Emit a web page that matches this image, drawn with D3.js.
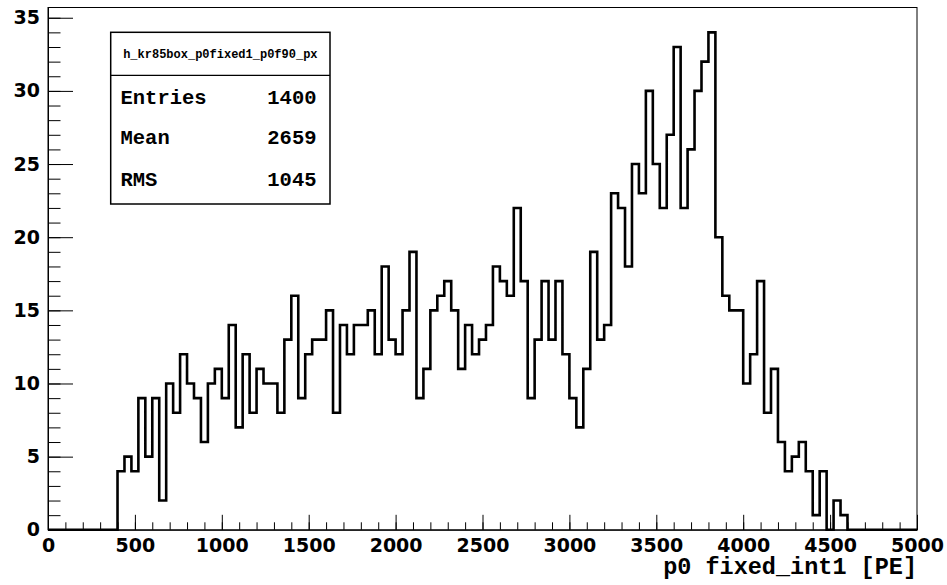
<!DOCTYPE html>
<html>
<head>
<meta charset="utf-8">
<script src="https://cdn.jsdelivr.net/npm/d3@7/dist/d3.min.js"></script>
<style>
  body { margin: 0; background: #fff; }
  svg { display: block; }
</style>
</head>
<body>
<svg width="947" height="585"></svg>
<script>
// histogram definition: 125 bins of 40 PE from 0 to 5000
const xMin = 0, xMax = 5000, binWidth = 40;
const counts = [
    0, 0, 0, 0, 0, 0, 0, 0, 0, 0,
    4, 5, 4, 9, 5, 9, 2, 10, 8, 12,
    10, 9, 6, 10, 11, 9, 14, 7, 12, 8,
    11, 10, 10, 8, 13, 16, 9, 12, 13, 13,
    15, 8, 14, 12, 14, 14, 15, 12, 18, 13,
    12, 15, 19, 9, 11, 15, 16, 17, 15, 11,
    14, 12, 13, 14, 18, 17, 16, 22, 17, 9,
    13, 17, 13, 17, 12, 9, 7, 11, 19, 13,
    14, 23, 22, 18, 25, 23, 30, 25, 22, 27,
    33, 22, 26, 30, 32, 34, 20, 16, 15, 15,
    10, 12, 17, 8, 11, 6, 4, 5, 6, 4,
    1, 4, 0, 2, 1, 0, 0, 0, 0, 0,
    0, 0, 0, 0, 0
];
const xTicks = [0, 500, 1000, 1500, 2000, 2500, 3000, 3500, 4000, 4500, 5000];
const yTicks = [0, 5, 10, 15, 20, 25, 30, 35];
const xTitle = "p0 fixed_int1 [PE]";
const statsTitle = "h_kr85box_p0fixed1_p0f90_px";
const statsLabels = ["Entries", "Mean", "RMS"];
const statsValues = ["1400", "2659", "1045"];

const svg = d3.select("svg");
const frame = {left: 48, right: 917, top: 7.5, bottom: 529.8};
const yMax = d3.max(counts) * 1.05;

const x = d3.scaleLinear().domain([xMin, xMax]).range([frame.left, frame.right]);
const y = d3.scaleLinear().domain([0, yMax]).range([frame.bottom, frame.top]);

const tickFont = "'DejaVu Sans', sans-serif";
const monoFont = "Courier, 'Liberation Mono', monospace";

// frame
svg.append("rect")
    .attr("x", frame.left).attr("y", frame.top)
    .attr("width", frame.right - frame.left)
    .attr("height", frame.bottom - frame.top)
    .attr("fill", "none").attr("stroke", "#000").attr("stroke-width", 1);

// minor ticks
svg.append("g")
    .attr("transform", `translate(${frame.left},0)`)
    .call(d3.axisLeft(y).tickValues(d3.range(0, 36, 1)).tickSizeInner(-12.5).tickSizeOuter(0).tickFormat(""))
    .call(g => g.select(".domain").remove());
svg.append("g")
    .attr("transform", `translate(0,${frame.bottom})`)
    .call(d3.axisBottom(x).tickValues(d3.range(xMin, xMax + 1, 100)).tickSizeInner(-7.5).tickSizeOuter(0).tickFormat(""))
    .call(g => g.select(".domain").remove());

// major ticks + labels
const yAxis = svg.append("g")
    .attr("transform", `translate(${frame.left},0)`)
    .call(d3.axisLeft(y).tickValues(yTicks).tickFormat(d3.format("d"))
        .tickSizeInner(-25).tickSizeOuter(0).tickPadding(8));
const xAxis = svg.append("g")
    .attr("transform", `translate(0,${frame.bottom})`)
    .call(d3.axisBottom(x).tickValues(xTicks).tickFormat(d3.format("d"))
        .tickSizeInner(-15).tickSizeOuter(0).tickPadding(9));

[yAxis, xAxis].forEach(a => {
    a.select(".domain").attr("stroke-width", 1);
    a.selectAll("text")
        .attr("font-family", tickFont)
        .attr("font-weight", "bold")
        .attr("font-size", 19)
        .attr("fill", "#000");
});

svg.selectAll(".tick line").attr("stroke", "#000").attr("stroke-width", 1);

// histogram outline
const steps = counts.map((c, i) => [xMin + i * binWidth, c]);
steps.push([xMax, counts[counts.length - 1]]);

const line = d3.line()
    .x(d => x(d[0]))
    .y(d => y(d[1]))
    .curve(d3.curveStepAfter);

svg.append("path")
    .datum(steps)
    .attr("d", line)
    .attr("fill", "none")
    .attr("stroke", "#000")
    .attr("stroke-width", 2.6)
    .attr("stroke-linejoin", "miter");

// axis title
svg.append("text")
    .attr("x", frame.right)
    .attr("y", 574)
    .attr("text-anchor", "end")
    .attr("font-family", monoFont)
    .attr("font-weight", "bold")
    .attr("font-size", 23.5)
    .text(xTitle);

// stats box
const box = {x: 110.7, y: 32.3, w: 219.3, h: 171.7, sep: 75.3};
const stats = svg.append("g");
stats.append("rect")
    .attr("x", box.x).attr("y", box.y)
    .attr("width", box.w).attr("height", box.h)
    .attr("fill", "#fff").attr("stroke", "#000").attr("stroke-width", 1.5);
stats.append("line")
    .attr("x1", box.x).attr("x2", box.x + box.w)
    .attr("y1", box.sep).attr("y2", box.sep)
    .attr("stroke", "#000").attr("stroke-width", 1.2);
stats.append("text")
    .attr("x", box.x + box.w / 2)
    .attr("y", 58)
    .attr("text-anchor", "middle")
    .attr("font-family", monoFont)
    .attr("font-weight", "bold")
    .attr("font-size", 12)
    .text(statsTitle);

const rowY = [104, 144, 186];
statsLabels.forEach((lab, i) => {
    stats.append("text")
        .attr("x", 120.5).attr("y", rowY[i])
        .attr("font-family", monoFont).attr("font-weight", "bold")
        .attr("font-size", 20.5)
        .text(lab);
    stats.append("text")
        .attr("x", 316.5).attr("y", rowY[i])
        .attr("text-anchor", "end")
        .attr("font-family", monoFont).attr("font-weight", "bold")
        .attr("font-size", 20.5)
        .text(statsValues[i]);
});
</script>
</body>
</html>
